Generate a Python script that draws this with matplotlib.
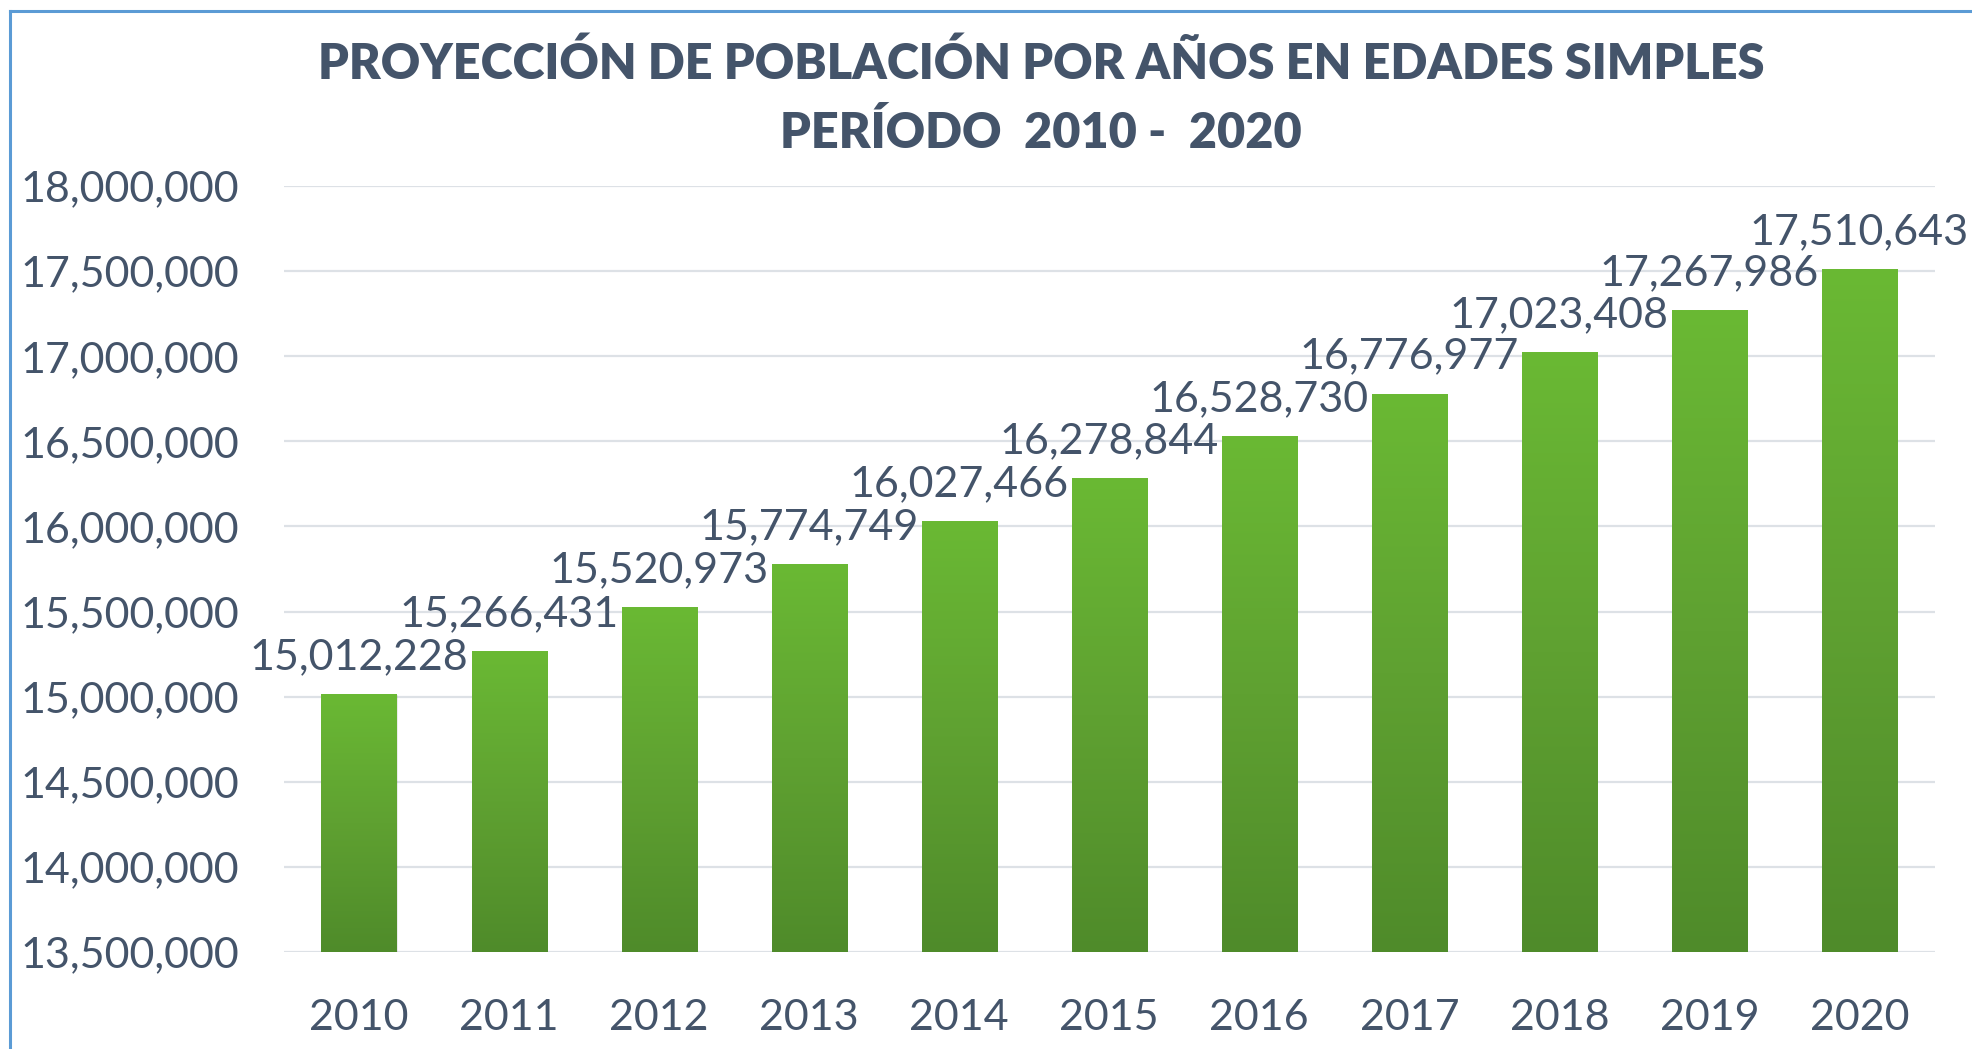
import numpy as np
import matplotlib
matplotlib.use("Agg")
import matplotlib.pyplot as plt
from matplotlib.colors import LinearSegmentedColormap
from matplotlib.patches import Rectangle

# data
years = ["2010", "2011", "2012", "2013", "2014", "2015", "2016", "2017", "2018", "2019", "2020"]
population = [15012228, 15266431, 15520973, 15774749, 16027466, 16278844,
              16528730, 16776977, 17023408, 17267986, 17510643]
y_ticks = [13500000, 14000000, 14500000, 15000000, 15500000, 16000000,
           16500000, 17000000, 17500000, 18000000]

title = "PROYECCIÓN DE POBLACIÓN POR AÑOS EN EDADES SIMPLES\nPERÍODO  2010 -  2020"

txt_color = "#44546A"
plt.rcParams["font.family"] = ["Lato", "DejaVu Sans"]

fig = plt.figure(figsize=(19.72, 10.49), dpi=100)
ax = fig.add_axes([0.144, 0.0925, 0.837, 0.7302])

green = LinearSegmentedColormap.from_list("g", ["#4F8B2A", "#5FA131", "#6AB934"])
grad = np.linspace(0, 1, 256).reshape(-1, 1)

x = np.arange(len(years))
bw = 0.5
ymin = y_ticks[0]
for xi, v in zip(x, population):
    # soft shadow
    ax.add_patch(Rectangle((xi - bw / 2 + 0.008, ymin), bw, v - ymin,
                           color="#000000", alpha=0.08, zorder=2, lw=0))
    ax.imshow(grad, extent=(xi - bw / 2, xi + bw / 2, ymin, v), origin="lower",
              cmap=green, aspect="auto", zorder=3)
    ax.annotate(f"{v:,}", (xi, v), xytext=(0, 27), textcoords="offset points",
                ha="center", va="center", fontsize=31, color=txt_color, zorder=4)

ax.set_xlim(-0.5, len(years) - 0.5)
ax.set_ylim(y_ticks[0], y_ticks[-1])
ax.set_yticks(y_ticks)
ax.set_yticklabels([f"{t:,}" for t in y_ticks])
ax.set_xticks(x)
ax.set_xticklabels(years)
ax.tick_params(axis="y", length=0, pad=32, labelsize=31, labelcolor=txt_color)
ax.tick_params(axis="x", length=0, pad=34, labelsize=31, labelcolor=txt_color)
ax.grid(axis="y", color="#DDE1E6", lw=1.6, zorder=0)
ax.set_axisbelow(True)
for s in ax.spines.values():
    s.set_visible(False)

fig.text(0.528, 0.906, title, ha="center", va="center", fontsize=35,
         fontweight="heavy", color=txt_color, linespacing=1.6)

# blue chart border (only top and left visible in the reference)
fig.add_artist(plt.Line2D([0.005, 1.0], [0.9895, 0.9895], color="#5B9BD5", lw=2.2,
                          transform=fig.transFigure))
fig.add_artist(plt.Line2D([0.005, 0.005], [0.0, 0.9895], color="#5B9BD5", lw=2.2,
                          transform=fig.transFigure))

fig.savefig("out.png", dpi=100, facecolor="white")
